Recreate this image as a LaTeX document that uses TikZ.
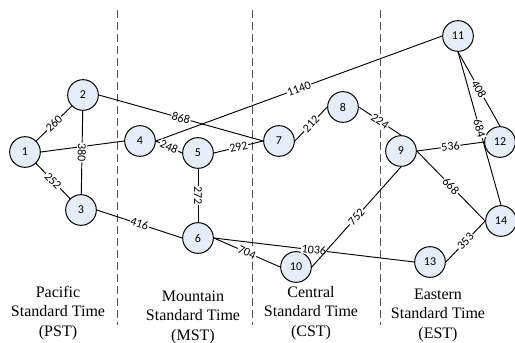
\documentclass[tikz,border=0pt]{standalone}
\usepackage{fontspec}
\setmainfont{Liberation Serif}
\newfontfamily\numfont{Carlito}
\definecolor{nodefill}{RGB}{231,237,247}
\definecolor{dashgray}{RGB}{80,80,80}
\begin{document}
\begin{tikzpicture}[x=0.75pt,y=-0.75pt,
  city/.style={circle,draw=black,line width=0.75pt,fill=nodefill,minimum size=23pt,inner sep=0pt,font=\numfont\fontsize{9}{10}\selectfont},
  road/.style={draw=black,line width=0.7pt},
  dist/.style={sloped,fill=white,inner sep=0.6pt,font=\numfont\fontsize{9}{10}\selectfont},
  zoneline/.style={draw=dashgray,line width=0.75pt,dash pattern=on 6pt off 3pt},
  zonelabel/.style={align=center,font=\rmfamily\fontsize{12}{14.6}\selectfont}]
\useasboundingbox (0,0) rectangle (515,343);
% zone separators
\coordinate (d1t) at (117,10); \coordinate (d1b) at (117,325);
\coordinate (d2t) at (252,10); \coordinate (d2b) at (252,325);
\coordinate (d3t) at (380,10); \coordinate (d3b) at (380,325);
\draw[zoneline] (d1t) -- (d1b);
\draw[zoneline] (d2t) -- (d2b);
\draw[zoneline] (d3t) -- (d3b);
% nodes
\node[city] (n1) at (25,152) {1};
\node[city] (n2) at (83,95) {2};
\node[city] (n3) at (81,210) {3};
\node[city] (n4) at (140,141) {4};
\node[city] (n5) at (198,153) {5};
\node[city] (n6) at (198,238) {6};
\node[city] (n7) at (279,141) {7};
\node[city] (n8) at (343,107) {8};
\node[city] (n9) at (401,151) {9};
\node[city] (n10) at (296,267) {10};
\node[city] (n11) at (458,36) {11};
\node[city] (n12) at (500,142) {12};
\node[city] (n13) at (430,262) {13};
\node[city] (n14) at (501,221) {14};
% roads
\draw[road] (n1) -- node[dist]{260} (n2);
\draw[road] (n1.east) -- (n4.west);
\draw[road] (n1) -- node[dist]{252} (n3);
\draw[road] (n2) -- node[dist,allow upside down]{380} (n3);
\draw[road] (n2.east) -- node[dist]{868} (n7.west);
\draw[road] (n3.east) -- node[dist]{416} (n6.west);
\draw[road] (n4.east) -- node[dist]{1140} (n11.west);
\draw[road] (n4.east) -- node[dist]{248} (n5.west);
\draw[road] (n5.east) -- node[dist]{292} (n7.west);
\draw[road] (n5.south) -- node[dist,allow upside down]{272} (n6.north);
\draw[road] (n6.east) -- node[dist]{704} (n10.west);
\draw[road] (n6.east) -- node[dist]{1036} (n13.west);
\draw[road] (n7.east) -- node[dist]{212} (n8.west);
\draw[road] (n8.east) -- node[dist]{224} (n9.north);
\draw[road] (n10.east) -- node[dist]{752} (n9.south);
\draw[road] (n9.east) -- node[dist]{536} (n12.west);
\draw[road] (n9.east) -- node[dist]{668} (n14.west);
\draw[road] (n11.south) -- node[dist]{408} (n12.north);
\draw[road] (n11.south) -- node[dist]{684} (n14.north);
\draw[road] (n13.east) -- node[dist]{353} (n14.west);
% zone labels
\node[zonelabel] (pst) at (58,313) {Pacific\\Standard Time\\(PST)};
\node[zonelabel] (mst) at (193,317) {Mountain\\Standard Time\\(MST)};
\node[zonelabel] (cst) at (311,313) {Central\\Standard Time\\(CST)};
\node[zonelabel] (est) at (438,315) {Eastern\\Standard Time\\(EST)};
\end{tikzpicture}
\end{document}
